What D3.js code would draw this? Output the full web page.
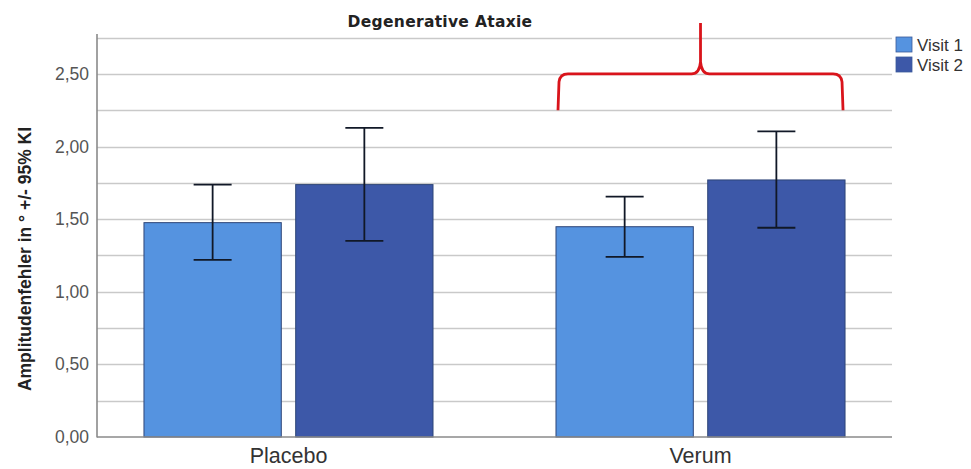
<!DOCTYPE html>
<html>
<head>
<meta charset="utf-8">
<script src="https://cdn.jsdelivr.net/npm/d3@7"></script>
<style>
  html, body { margin: 0; padding: 0; background: #ffffff; }
  svg { display: block; }
</style>
</head>
<body>
<svg id="chart" width="971" height="469"></svg>
<script>
const categories = ["Placebo", "Verum"];
const seriesNames = ["Visit 1", "Visit 2"];
const means = [[1.476, 1.738], [1.448, 1.770]];
const ciLow = [[1.219, 1.350], [1.240, 1.441]];
const ciHigh = [[1.738, 2.128], [1.655, 2.105]];
const yTicks = [0, 0.5, 1.0, 1.5, 2.0, 2.5];
const gridValues = [0.25, 0.5, 0.75, 1.0, 1.25, 1.5, 1.75, 2.0, 2.25, 2.5, 2.75];
const colors = ["#5593e0", "#3d58a8"];

(function () {
const svg = d3.select("#chart");
const mL = 97, mR = 892, mT = 34, mB = 437;

const y = d3.scaleLinear().domain([0, 2.775]).range([mB, mT]);
const x0 = d3.scaleBand().domain(categories).range([mL, mR])
  .paddingInner(0.2985).paddingOuter(0.114);
const x1 = d3.scaleBand().domain(seriesNames).range([0, x0.bandwidth()]).paddingInner(0.095);

// gridlines
svg.append("g").selectAll("line").data(gridValues).join("line")
  .attr("x1", mL).attr("x2", mR)
  .attr("y1", d => Math.round(y(d)) + 0.5).attr("y2", d => Math.round(y(d)) + 0.5)
  .attr("stroke", "#c9c9c9").attr("stroke-width", 1.6);

// bars
const data = [];
categories.forEach((c, i) => seriesNames.forEach((s, j) => {
  data.push({ c, s, v: means[i][j], lo: ciLow[i][j], hi: ciHigh[i][j], j });
}));

svg.append("g").selectAll("rect").data(data).join("rect")
  .attr("x", d => x0(d.c) + x1(d.s))
  .attr("y", d => y(d.v))
  .attr("width", x1.bandwidth())
  .attr("height", d => y(0) - y(d.v))
  .attr("fill", d => colors[d.j])
  .attr("stroke", "#2e4577").attr("stroke-width", 1);

// error bars
const eb = svg.append("g").attr("stroke", "#111827").attr("stroke-width", 1.8).attr("fill", "none");
data.forEach(d => {
  const cx = x0(d.c) + x1(d.s) + x1.bandwidth() / 2;
  eb.append("line").attr("x1", cx).attr("x2", cx).attr("y1", y(d.hi)).attr("y2", y(d.lo));
  eb.append("line").attr("x1", cx - 19).attr("x2", cx + 19).attr("y1", y(d.hi)).attr("y2", y(d.hi));
  eb.append("line").attr("x1", cx - 19).attr("x2", cx + 19).attr("y1", y(d.lo)).attr("y2", y(d.lo));
});

// axes
const yAxis = d3.axisLeft(y).tickValues(yTicks).tickSize(0).tickPadding(8)
  .tickFormat(d => d3.format(".2f")(d).replace(".", ","));
const gy = svg.append("g").attr("transform", `translate(${mL},0)`).call(yAxis);
gy.select(".domain").remove();
gy.selectAll("text").attr("font-family", "Liberation Sans, Arial, sans-serif")
  .attr("font-size", 17.5).attr("fill", "#555");

svg.append("line").attr("x1", mL).attr("x2", mL).attr("y1", mT).attr("y2", mB + 0.5)
  .attr("stroke", "#8a8a8a").attr("stroke-width", 1.6);
svg.append("line").attr("x1", mL).attr("x2", mR).attr("y1", mB).attr("y2", mB)
  .attr("stroke", "#8a8a8a").attr("stroke-width", 1.6);

const xAxis = d3.axisBottom(x0).tickSize(0).tickPadding(11);
const gx = svg.append("g").attr("transform", `translate(0,${mB})`).call(xAxis);
gx.select(".domain").remove();
gx.selectAll("text").attr("font-family", "Liberation Sans, Arial, sans-serif")
  .attr("font-size", 21.5).attr("fill", "#333");

// title
svg.append("text").attr("x", 440).attr("y", 27).attr("text-anchor", "middle")
  .attr("font-family", "DejaVu Sans, sans-serif").attr("font-weight", "bold")
  .attr("font-size", 15.5).attr("letter-spacing", 0.3).attr("fill", "#222").text("Degenerative Ataxie");

// y label
svg.append("text").attr("transform", "translate(31,259) rotate(-90)")
  .attr("text-anchor", "middle")
  .attr("font-family", "Liberation Sans, Arial, sans-serif").attr("font-weight", "bold")
  .attr("font-size", 17.5).attr("fill", "#222").text("Amplitudenfehler in ° +/- 95% KI");

// legend
const lg = svg.append("g");
seriesNames.forEach((s, i) => {
  lg.append("rect").attr("x", 896).attr("y", 37 + i * 20).attr("width", 16).attr("height", 15)
    .attr("fill", colors[i]).attr("stroke", "#3a5a9a").attr("stroke-width", 0.8);
  lg.append("text").attr("x", 917).attr("y", 51 + i * 20)
    .attr("font-family", "Liberation Sans, Arial, sans-serif").attr("font-size", 17)
    .attr("fill", "#333").text(s);
});

// red brace over Verum
const bl = x0("Verum"), br = x0("Verum") + x0.bandwidth();
const bm = (bl + br) / 2;
const yb = y(2.25), yh = y(2.5) + 0, yt = mT - 11;
const brace = `M${bl + 2},${yb} L${bl + 3},${yh + 8} Q${bl + 4},${yh} ${bl + 12},${yh}
  L${bm - 9},${yh} Q${bm - 1},${yh} ${bm},${yh - 12} L${bm},${yt}
  M${bm},${yh - 12} Q${bm + 1},${yh} ${bm + 9},${yh} L${br - 12},${yh}
  Q${br - 4},${yh} ${br - 3},${yh + 8} L${br - 2},${yb}`;
svg.append("path").attr("d", brace).attr("fill", "none")
  .attr("stroke", "#d9141b").attr("stroke-width", 2.8).attr("stroke-linejoin", "round");
})();
</script>
</body>
</html>
